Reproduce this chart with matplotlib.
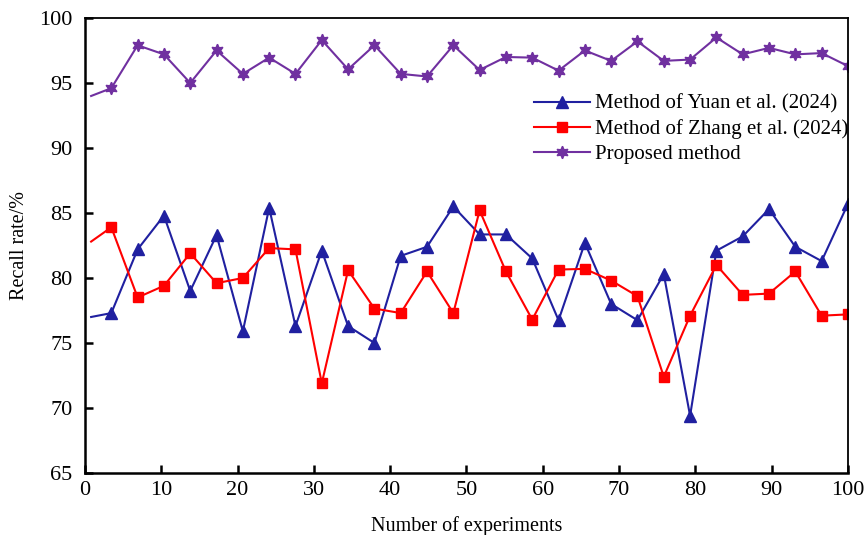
import matplotlib.pyplot as plt
import numpy as np

plt.rcParams["font.family"] = ["Liberation Serif", "DejaVu Serif"]

# experiment index along the x axis (first point carries no marker)
experiments = [0.8] + list(np.linspace(100 / 29, 100, 29))

yuan = [77.0, 77.3, 82.2, 84.8, 79.0, 83.3, 75.9, 85.4, 76.3, 82.1, 76.3,
        75.0, 81.7, 82.4, 85.5, 83.35, 83.35, 81.5, 76.75, 82.7, 78.0,
        76.75, 80.3, 69.4, 82.1, 83.2, 85.3, 82.4, 81.3, 85.7]
zhang = [82.8, 83.9, 78.5, 79.4, 81.9, 79.6, 80.0, 82.3, 82.2, 71.9, 80.6,
         77.65, 77.3, 80.5, 77.3, 85.2, 80.5, 76.8, 80.65, 80.7, 79.8,
         78.6, 72.4, 77.1, 81.0, 78.7, 78.8, 80.5, 77.1, 77.2]
proposed = [94.0, 94.6, 97.9, 97.2, 95.0, 97.5, 95.7, 96.95, 95.7, 98.3,
            96.05, 97.9, 95.7, 95.5, 97.9, 96.0, 97.0, 96.95, 95.95, 97.5,
            96.7, 98.2, 96.7, 96.8, 98.5, 97.2, 97.7, 97.2, 97.3, 96.3]

labels = ["Method of Yuan et al. (2024)", "Method of Zhang et al. (2024)",
          "Proposed method"]

fig = plt.figure(figsize=(8.64, 5.35), dpi=100)
ax = fig.add_axes([0.0984, 0.1159, 0.883, 0.8505])

marks = list(range(1, 30))
ax.plot(experiments, yuan, color="#2020A0", lw=1.5, marker="^", ms=8,
        markevery=marks, label=labels[0])
ax.plot(experiments, zhang, color="#FF0000", lw=1.5, marker="s", ms=7.5,
        markevery=marks, label=labels[1])
ax.plot(experiments, proposed, color="#7030A0", lw=1.5, marker=(6, 1, 0),
        ms=9, markevery=marks, label=labels[2])

ax.set_xlim(0, 100)
ax.set_ylim(65, 100)
ax.set_xticks(range(0, 101, 10))
ax.set_yticks(range(65, 101, 5))
ax.tick_params(direction="in", length=6, width=1.8, labelsize=16,
               top=False, right=False)
ax.tick_params(axis="x", pad=6)
ax.tick_params(axis="y", pad=9)
for side in ["left", "bottom"]:
    ax.spines[side].set_linewidth(1.8)
for side in ["top", "right"]:
    ax.spines[side].set_linewidth(1.3)

ax.set_xlabel("Number of experiments", fontsize=14.5, labelpad=11)
ax.set_ylabel("Recall rate/%", fontsize=14.5, labelpad=7)

ax.legend(loc="upper left", bbox_to_anchor=(0.575, 0.855), frameon=False,
          fontsize=15, handlelength=2.7, handletextpad=0.2, labelspacing=0.25,
          borderpad=0)

fig.savefig("out.png", dpi=100)
